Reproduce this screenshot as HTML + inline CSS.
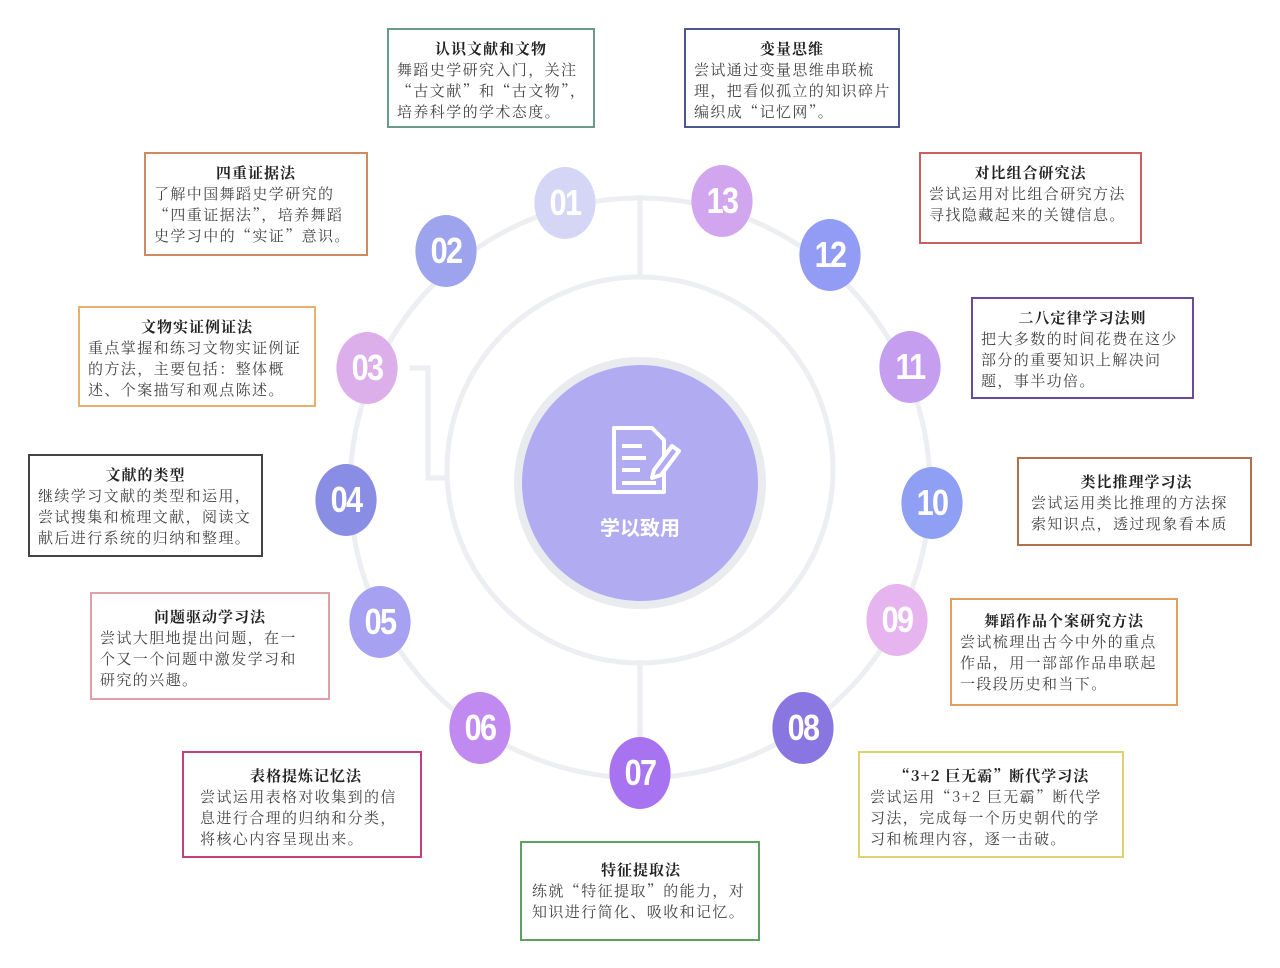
<!DOCTYPE html>
<html><head><meta charset="utf-8"><style>
html,body{margin:0;padding:0;background:#fff;}
body{width:1280px;height:968px;position:relative;overflow:hidden;font-family:"Noto Serif CJK SC","Liberation Serif",serif;}
.b{position:absolute;box-sizing:border-box;border:2px solid;background:#fff;padding:8px 8px 0 8px;font-size:15px;line-height:21px;color:#444;letter-spacing:1.4px;white-space:nowrap;}
.b .t{font-weight:bold;color:#222;text-align:center;letter-spacing:1px;}
.n{position:absolute;width:72px;height:72px;border-radius:50%;color:#fff;font-family:"Liberation Sans",sans-serif;font-weight:bold;font-size:36px;line-height:72px;text-align:center;transform:scaleX(0.85);letter-spacing:-2px;}
svg{position:absolute;left:0;top:0;}
</style></head><body>
<svg width="1280" height="968">
<circle cx="640" cy="488" r="290" fill="none" stroke="#eceef2" stroke-width="5"/>
<circle cx="640" cy="470" r="193" fill="none" stroke="#eceef2" stroke-width="5"/>
<line x1="640" y1="195" x2="640" y2="278" stroke="#eceef2" stroke-width="5"/>
<line x1="640" y1="660" x2="640" y2="745" stroke="#eceef2" stroke-width="5"/>
<polyline points="410,368 428,368 428,478 448,478" fill="none" stroke="#eceef2" stroke-width="5"/>
<circle cx="640" cy="483" r="122" fill="#b1abf2" stroke="#e9ebef" stroke-width="8"/>
<g fill="none" stroke="#fff" stroke-width="4" stroke-linejoin="round">
<path d="M614,428 h38 l12,12 v52 h-50 z"/>
<line x1="622" y1="446" x2="642" y2="446"/><line x1="622" y1="458" x2="646" y2="458"/><line x1="622" y1="470" x2="640" y2="470"/><line x1="622" y1="483" x2="656" y2="483"/>
<path d="M654,470 l18,-24 l7,5 l-18,24 l-9,3 z" fill="#b1abf2"/>
</g>
<text x="640" y="535" fill="#fff" font-size="20" font-weight="bold" text-anchor="middle" font-family="Noto Sans CJK SC,sans-serif">学以致用</text>
</svg>
<div class="n" style="left:529px;top:167px;background:#d5d6f6">01</div>
<div class="n" style="left:410px;top:215px;background:#9ea3ee">02</div>
<div class="n" style="left:331px;top:332px;background:#dcaeea">03</div>
<div class="n" style="left:310px;top:464px;background:#8a8de4">04</div>
<div class="n" style="left:344px;top:586px;background:#a6a1f0">05</div>
<div class="n" style="left:444px;top:692px;background:#c08af0">06</div>
<div class="n" style="left:604px;top:737px;background:#a873f0">07</div>
<div class="n" style="left:767px;top:692px;background:#8a76e0">08</div>
<div class="n" style="left:861px;top:584px;background:#e6b4ef">09</div>
<div class="n" style="left:896px;top:467px;background:#8e9ff4">10</div>
<div class="n" style="left:874px;top:331px;background:#c59ef0">11</div>
<div class="n" style="left:794px;top:219px;background:#929cf4">12</div>
<div class="n" style="left:686px;top:165px;background:#d2a6ee">13</div>

<div class="b" style="left:387px;top:28px;width:208px;height:100px;border-color:#6a9a8a"><div class="t">认识文献和文物</div>舞蹈史学研究入门，关注<br>“古文献”和“古文物”，<br>培养科学的学术态度。</div>
<div class="b" style="left:684px;top:28px;width:216px;height:100px;border-color:#4a5a8a"><div class="t">变量思维</div>尝试通过变量思维串联梳<br>理，把看似孤立的知识碎片<br>编织成“记忆网”。</div>
<div class="b" style="left:144px;top:152px;width:224px;height:104px;border-color:#d08a60"><div class="t">四重证据法</div>了解中国舞蹈史学研究的<br>“四重证据法”，培养舞蹈<br>史学习中的“实证”意识。</div>
<div class="b" style="left:919px;top:152px;width:223px;height:92px;border-color:#c86060"><div class="t">对比组合研究法</div>尝试运用对比组合研究方法<br>寻找隐藏起来的关键信息。</div>
<div class="b" style="left:971px;top:297px;width:223px;height:102px;border-color:#6a4a9a"><div class="t">二八定律学习法则</div>把大多数的时间花费在这少<br>部分的重要知识上解决问<br>题，事半功倍。</div>
<div class="b" style="left:78px;top:306px;width:238px;height:101px;border-color:#e8b070"><div class="t">文物实证例证法</div>重点掌握和练习文物实证例证<br>的方法，主要包括：整体概<br>述、个案描写和观点陈述。</div>
<div class="b" style="left:1017px;top:457px;width:235px;height:89px;border-color:#b07050;padding-left:12px;padding-top:12px"><div class="t">类比推理学习法</div>尝试运用类比推理的方法探<br>索知识点，透过现象看本质</div>
<div class="b" style="left:28px;top:454px;width:235px;height:103px;border-color:#444"><div class="t">文献的类型</div>继续学习文献的类型和运用，<br>尝试搜集和梳理文献，阅读文<br>献后进行系统的归纳和整理。</div>
<div class="b" style="left:90px;top:592px;width:240px;height:108px;border-color:#e0a0a8;padding-top:12px"><div class="t">问题驱动学习法</div>尝试大胆地提出问题，在一<br>个又一个问题中激发学习和<br>研究的兴趣。</div>
<div class="b" style="left:950px;top:598px;width:228px;height:108px;border-color:#e0a060;padding-top:10px"><div class="t">舞蹈作品个案研究方法</div>尝试梳理出古今中外的重点<br>作品，用一部部作品串联起<br>一段段历史和当下。</div>
<div class="b" style="left:182px;top:751px;width:240px;height:107px;border-color:#c04080;padding-left:16px;padding-top:12px"><div class="t">表格提炼记忆法</div>尝试运用表格对收集到的信<br>息进行合理的归纳和分类，<br>将核心内容呈现出来。</div>
<div class="b" style="left:858px;top:751px;width:266px;height:107px;border-color:#e0d070;padding-left:10px;padding-top:12px"><div class="t">“3+2 巨无霸”断代学习法</div>尝试运用“3+2 巨无霸”断代学<br>习法，完成每一个历史朝代的学<br>习和梳理内容，逐一击破。</div>
<div class="b" style="left:520px;top:841px;width:240px;height:100px;border-color:#60a060;padding-left:10px;padding-top:16px"><div class="t">特征提取法</div>练就“特征提取”的能力，对<br>知识进行简化、吸收和记忆。</div>
</body></html>
